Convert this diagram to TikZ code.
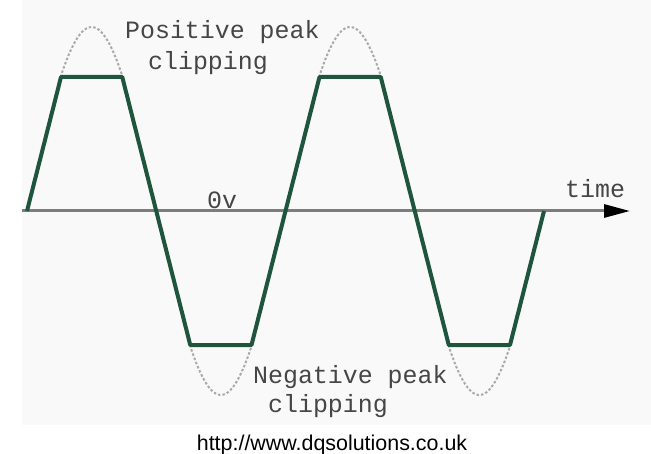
\documentclass[tikz,border=0pt]{standalone}
\usepackage{fontspec}
\setmainfont{Liberation Sans}
\newfontfamily\labelmono{Liberation Mono}
\usepackage{tikz}
\usetikzlibrary{arrows.meta,calc,positioning}
\definecolor{wavec}{RGB}{30,85,60}
\definecolor{ghostc}{RGB}{170,170,170}
\definecolor{axisc}{RGB}{125,125,125}
\definecolor{panelc}{RGB}{249,249,249}
\definecolor{textc}{RGB}{70,70,70}

\begin{document}
\begin{tikzpicture}[x=1bp,y=-1bp,line join=round,
  wave/.style={line width=4bp,wavec},
  ghost/.style={line width=2bp,ghostc,dash pattern=on 2.5bp off 2bp},
  axisline/.style={line width=3bp,axisc},
  lbl/.style={font=\labelmono\fontsize{25}{30}\selectfont,textc,inner sep=0pt,anchor=base west}]
  \useasboundingbox (0,0) rectangle (651,454);
  \fill[panelc] (22,0) rectangle (651,425);
  % time axis
  \coordinate (O) at (22,211); \coordinate (T) at (630,211);
  \draw[axisline,-{Triangle[length=26bp,width=13bp,color=black]}] (O) -- (T);
  % peaks that get cut off
  \foreach \k/\s in {0/1,1/-1,2/1,3/-1}
    \draw[ghost] plot[domain=46.7:133.3,samples=30] ({27+129.25*\k+\x/180*129.25},{211-184*\s*sin(\x)});
  % clipped wave
  \draw[wave] (27,211) \foreach \s in {1,-1,1,-1} { -- ++(34,{-134*\s}) -- ++(61.25,0) -- ++(34,{134*\s}) };
  \node[lbl] (pos1) at (125,39) {Positive peak};
  \node[lbl] (pos2) at (148,70) {clipping};
  \node[lbl] (zero) at (207,209) {0v};
  \node[lbl] (time) at (565,198) {time};
  \node[lbl] (neg1) at (253,383) {Negative peak};
  \node[lbl] (neg2) at (268,412) {clipping};
  \node[font=\fontsize{21.5}{26}\selectfont,inner sep=0pt,anchor=base] (url) at (332,450) {http://www.dqsolutions.co.uk};
\end{tikzpicture}
\end{document}
